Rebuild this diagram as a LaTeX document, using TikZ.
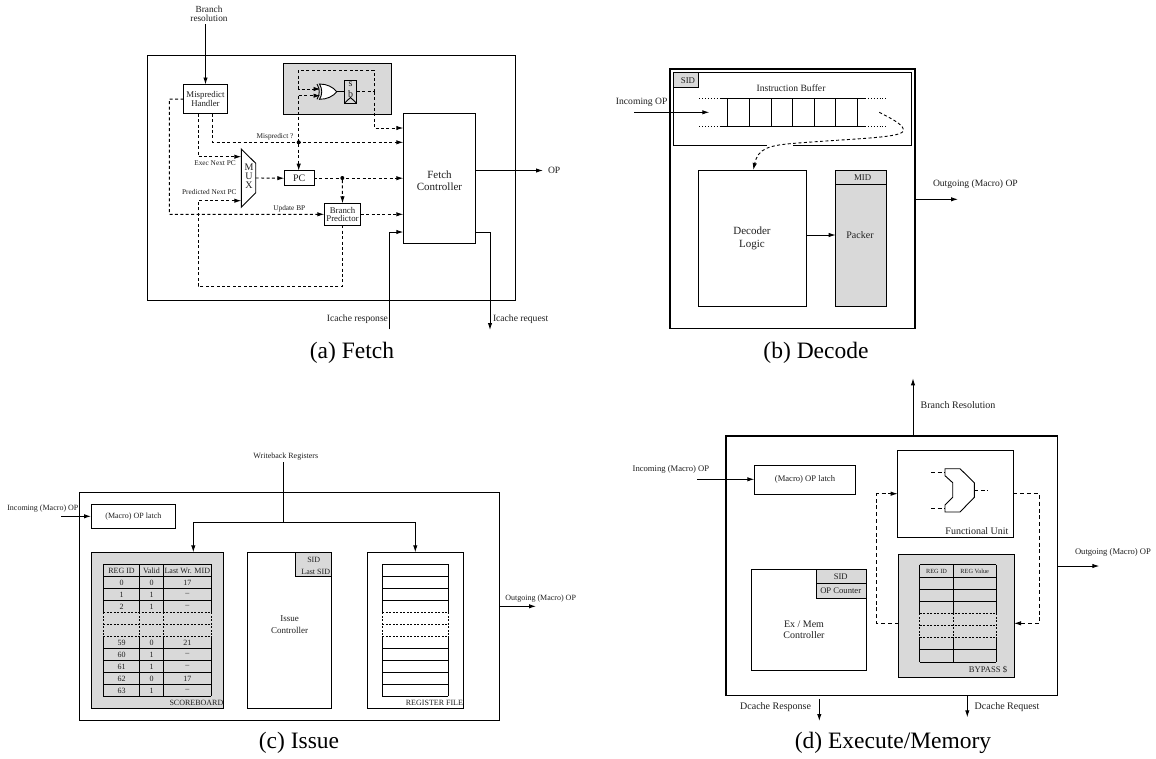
\documentclass[tikz,border=0pt]{standalone}
\usepackage{fontspec}
\setmainfont{Liberation Serif}
\usetikzlibrary{arrows.meta}
\definecolor{gr}{HTML}{D9D9D9}
\tikzset{
  >={Latex[length=7pt,width=4.4pt]},
  box/.style={draw=black,line width=.9pt,inner sep=0pt,outer sep=0pt,align=center},
  outerbox/.style={box,line width=1.25pt},
  shade/.style={fill=gr},
  wire/.style={line width=.9pt},
  dsh/.style={wire,dash pattern=on 3pt off 2.4pt},
  dot/.style={circle,fill=black,inner sep=0pt,outer sep=0pt,minimum size=4pt},
  lab/.style={inner sep=0pt,outer sep=0pt,align=center,text=black!88},
  f6/.style={lab,font=\fontsize{6.3}{7}\selectfont},
  f7/.style={lab,font=\fontsize{7.3}{8.5}\selectfont},
  f75/.style={lab,font=\fontsize{8}{9}\selectfont},
  f8/.style={lab,font=\fontsize{8}{9}\selectfont},
  f85/.style={lab,font=\fontsize{8.6}{9}\selectfont},
  f9/.style={lab,font=\fontsize{8.8}{9.3}\selectfont},
  f95/.style={lab,font=\fontsize{9.6}{9}\selectfont},
  f10/.style={lab,font=\fontsize{10}{11}\selectfont},
  f11/.style={lab,font=\fontsize{11}{12.5}\selectfont},
  captxt/.style={lab,font=\fontsize{23.5}{26}\selectfont,text=black},
}
\newcommand\bx[7][]{%
  \pgfmathsetmacro\bcx{(#3+#5)/2}\pgfmathsetmacro\bcy{(#4+#6)/2}%
  \pgfmathsetmacro\bww{#5-#3}\pgfmathsetmacro\bhh{#6-#4}%
  \node[box,minimum width=\bww pt,minimum height=\bhh pt,#1] (#2) at (\bcx,\bcy) {#7};}
\begin{document}
\begin{tikzpicture}[x=1pt,y=-1pt]
\useasboundingbox[fill=white] (0,0) rectangle (1156,758);

% ---------- (a) Fetch
\bx[outerbox]{fo}{147.5}{55.5}{515.5}{300.7}{}
\bx[shade]{fgrey}{283.3}{63.5}{391.7}{114.3}{}
\bx[f9,box]{fhand}{183.5}{84.5}{227.5}{113.7}{Mispredict\\Handler}
\bx{fctl}{403.3}{113.3}{475.7}{243.3}{}
\node[f11] (fctlt) at (439.5,180.5) {Fetch\\Controller};
\bx[f10,box]{fpc}{284.3}{170.7}{314}{185.7}{PC}
\bx[f9,box,font=\fontsize{8.8}{8}\selectfont]{fbp}{324.3}{203.3}{360.7}{225.3}{Branch\\Predictor}
\draw[wire,fill=white] (241.3,149) -- (255.7,163.3) -- (255.7,192.7) -- (241.3,207.3) -- cycle;
\node[f10] (fm) at (249,167) {M};
\node[f10] (fu) at (249,176.5) {U};
\node[f10] (fx) at (249,185.5) {X};
\coordinate (fmuxa) at (241.3,156.7);
\coordinate (fmuxb) at (241.3,200.7);
\coordinate (fmuxo) at (255.7,178);
% xor and latch
\draw[wire,fill=white] (319.5,84) .. controls (327,84) and (333,87) .. (336.7,91.7) .. controls (333,96.5) and (327,99.3) .. (319.5,99.3) .. controls (322.5,94.5) and (322.5,89) .. (319.5,84) -- cycle;
\draw[wire] (317,84) .. controls (320,89) and (320,94.5) .. (317,99.3);
\coordinate (xa) at (320.5,89);
\coordinate (xb) at (320.5,95.7);
\coordinate (xo) at (336.7,91.7);
\coordinate (xj) at (298.7,95.7);
\bx[shade,box]{fsb}{344.3}{80.3}{356.7}{103.3}{}
\node[f10] (fs) at (350.5,84) {s};
\node[f10] (fb) at (350.5,94) {b};
\draw[wire] (344.3,103.3) -- (350.5,97.5) -- (356.7,103.3);
\draw[wire] (xo) -- (xo -| fsb.west);
\coordinate (fj) at (374,91.7);
\draw[dsh] (fsb.east |- fj) -- (fj);
\draw[dsh,->] (fj) -- (374,70) -- (298.7,70) -- (298.7,89) -- (xa);
\draw[dsh,->] (fj) -- (374,128) -- (fctl.west |- 0,128);
\draw[dsh,->] (xj) -- (fpc.north -| xj);
\draw[dsh,->] (xj) -- (xb);
\draw[dsh,->] (fhand.south -| 212.7,0) -- (212.7,142.3) -- (fctl.west |- 0,142.3);
\node[dot] (fd1) at (298.7,142.3) {};
\draw[dsh,->] (fhand.south -| 198.3,0) -- (198.3,156.7) -- (fmuxa);
\draw[dsh,->] (fmuxo) -- (fpc.west);
\draw[dsh,->] (fpc.east) -- (fctl.west |- fpc.east);
\node[dot] (fd2) at (342.3,178) {};
\draw[dsh,->] (fd2) -- (fbp.north);
\draw[dsh,->] (fbp.east) -- (fctl.west |- fbp.east);
\draw[dsh,->] (fhand.west) -- (169.3,99.1) -- (169.3,214.3) -- (fbp.west);
\draw[dsh,->] (fbp.south) -- (342.5,286) -- (198,286) -- (198,200.7) -- (fmuxb);
\coordinate (fbr) at (205.5,24);
\draw[wire,->] (fbr) -- (fhand.north -| fbr);
\node[f95,font=\fontsize{9.3}{8.5}\selectfont] (fbrt) at (209,14) {Branch\\resolution};
\coordinate (fir) at (389,329.3);
\draw[wire,->] (fir) -- (389,232) -- (fctl.west |- 0,232);
\coordinate (fiq) at (490,330);
\draw[wire,->] (fctl.east |- 0,232) -- (490,232) -- (fiq);
\coordinate (fop) at (543,170.5);
\draw[wire,->] (fctl.east |- fop) -- (fop);
\node[f7] (ft1) at (275,136.3) {Mispredict ?};
\node[f7] (ft2) at (215,163.3) {Exec Next PC};
\node[f7] (ft3) at (209.3,192.3) {Predicted Next PC};
\node[f7] (ft4) at (289.3,208.7) {Update BP};
\node[f95,anchor=east] (ft5) at (388,319) {Icache response};
\node[f95,anchor=west] (ft6) at (493,319) {Icache request};
\node[f95,anchor=west] (ft7) at (548,170.5) {OP};
\node[captxt] (capa) at (352,352.5) {(a) Fetch};

% ---------- (b) Decode
\bx[outerbox]{do}{670}{69}{915}{328.3}{}
\bx{dib}{673.3}{72.7}{911.7}{145}{}
\draw[white,line width=1.6pt] (767,145) -- (792.5,145);
\bx[shade]{dsid}{673.3}{72.7}{698.7}{87.3}{}
\node[f9] (dsidt) at (688,81) {SID};
\node[f95] (dibt) at (791,88) {Instruction Buffer};
\draw[wire] (721,98) -- (865,98) (721,126.7) -- (865,126.7);
\draw[wire,dotted,line width=.7pt] (699.3,98) -- (721,98) (865,98) -- (886,98) (699.3,126.7) -- (721,126.7) (865,126.7) -- (886,126.7);
\foreach \x in {727.3,749.3,771,792.3,814.3,835.7,857.3} \draw[wire] (\x,98) -- (\x,126.7);
\bx{ddec}{698.7}{170}{806.7}{306.7}{}
\node[f11] (ddect) at (752,238.5) {Decoder\\Logic};
\bx[shade]{dpk}{835.7}{170}{886}{306.7}{}
\bx[shade]{dmid}{835.7}{170}{886}{184.7}{}
\node[f9] (dmidt) at (862.7,177.8) {MID};
\node[f10] (dpkt) at (860,235.5) {Packer};
\draw[wire,->] (ddec.east |- 0,235) -- (dpk.west |- 0,235);
\coordinate (din1) at (634,112.3);
\coordinate (din2) at (709.3,112.3);
\draw[wire,->] (din1) -- (din2);
\node[f95] (dint) at (641.7,102) {Incoming OP};
\coordinate (dc0) at (879.3,112.3);
\draw[dsh,->] (dc0) .. controls (890,118) and (903,124) .. (903.5,130) .. controls (904,138) and (860,138) .. (792,143.5) .. controls (770,145.5) and (758,148) .. (ddec.north -| 753.3,0);
\coordinate (dout) at (958,199.3);
\draw[wire,->] (do.east |- dout) -- (dout);
\node[f95,anchor=west] (doutt) at (933,184.5) {Outgoing (Macro) OP};
\node[captxt] (capb) at (816,352.5) {(b) Decode};

% ---------- (c) Issue
\bx[outerbox,line width=1pt]{io}{79}{492.3}{499.3}{720.3}{}
\bx[f8]{ilatch}{91}{504.3}{175.7}{528.7}{(Macro) OP latch}
\bx[shade]{isb}{91}{552.3}{223.7}{708.3}{}
\bx{ictl}{247.3}{552.3}{331.7}{708.3}{}
\bx[shade]{isid}{295.3}{552.3}{331.7}{576.7}{}
\bx{irf}{367.3}{552.3}{463.3}{708.3}{}
\node[f8] (isid1) at (313.7,559.5) {SID};
\node[f8] (isid2) at (315.7,571.5) {Last SID};
\node[f8,font=\fontsize{9}{12}\selectfont] (ictlt) at (289.5,625) {Issue\\Controller};
\node[f75,anchor=east] (isbt) at (223.3,703.3) {SCOREBOARD};
\node[f75,anchor=east] (irft) at (463,703.3) {REGISTER FILE};
% scoreboard table
\foreach \y in {564.3,576.3,588.3,600.3,648.3,660.3,672.3,684.3,696.3} \draw[wire] (103,\y) -- (211.3,\y);
\foreach \y in {612.3,624.3,636.3} \draw[wire,dash pattern=on 2pt off 1.5pt] (103,\y) -- (211.3,\y);
\foreach \x in {103,139.3,163.3,211.3} {
  \draw[wire] (\x,564.3) -- (\x,612.3) (\x,636.3) -- (\x,696.3);
  \draw[wire,dash pattern=on 2pt off 1.5pt] (\x,612.3) -- (\x,636.3);
}
\node[f8] (th1) at (121.5,570.5) {REG ID};
\node[f8] (th2) at (151.5,570.5) {Valid};
\node[f8] (th3) at (187.3,570.5) {Last Wr. MID};
\foreach \n/\a/\b/\c/\r in {a/0/0/17/582.5,b/1/1/–/594.5,c/2/1/–/606.5,d/59/0/21/642.5,e/60/1/–/654.5,f/61/1/–/666.5,g/62/0/17/678.5,h/63/1/–/690.5} {
  \node[f8] (r\n1) at (121.5,\r) {\a};
  \node[f8] (r\n2) at (151.5,\r) {\b};
  \node[f8] (r\n3) at (187.3,\r) {\c};
}
% register file rows
\foreach \y in {564.3,576.3,588.3,600.3,648.3,660.3,672.3,684.3,696.3} \draw[wire] (382.3,\y) -- (448.3,\y);
\foreach \y in {612.3,624.3,636.3} \draw[wire,dash pattern=on 2pt off 1.5pt] (382.3,\y) -- (448.3,\y);
\foreach \x in {382.3,448.3} {
  \draw[wire] (\x,564.3) -- (\x,612.3) (\x,636.3) -- (\x,696.3);
  \draw[wire,dash pattern=on 2pt off 1.5pt] (\x,612.3) -- (\x,636.3);
}
\coordinate (iw0) at (283.3,462.3);
\coordinate (iw1) at (283.3,522.3);
\draw[wire] (iw0) -- (iw1);
\draw[wire,->] (iw1) -- (193.3,522.3) -- (isb.north -| 193.3,0);
\draw[wire,->] (iw1) -- (415.3,522.3) -- (irf.north -| 415.3,0);
\node[f75] (iwt) at (285.8,457) {Writeback Registers};
\coordinate (iin) at (61.3,516.3);
\draw[wire,->] (iin) -- (ilatch.west |- iin);
\node[f8,anchor=west] (iint) at (7.3,508.3) {Incoming (Macro) OP};
\coordinate (iout) at (536,606.3);
\draw[wire,->] (io.east |- iout) -- (iout);
\node[f8,anchor=west] (ioutt) at (505.3,598.3) {Outgoing (Macro) OP};
\node[captxt] (capc) at (299,742.5) {(c) Issue};

% ---------- (d) Execute/Memory
\bx[outerbox]{eo}{726}{436}{1057.3}{695.7}{}
\bx[f85]{elatch}{754.3}{465}{855.7}{494}{(Macro) OP latch}
\bx{efu}{897.7}{450.7}{1013.3}{537.3}{}
\draw[wire] (945,468.7) -- (960,468.7) -- (974.3,482.7) -- (974.3,497.3) -- (960,512) -- (945,512) -- (945,505) -- (952.7,497.3) -- (952.7,482.7) -- (945,475.7) -- cycle;
\coordinate (ea1) at (931,472.3);
\coordinate (ea2) at (931,508.3);
\coordinate (ea3) at (987.7,490);
\draw[wire,dash pattern=on 4pt off 2.5pt] (ea1) -- (945,472.3);
\draw[wire,dash pattern=on 4pt off 2.5pt] (ea2) -- (945,508.3);
\draw[wire,dash pattern=on 4pt off 2.5pt] (974.3,490) -- (ea3);
\node[f10,anchor=east] (efut) at (1008.5,530.7) {Functional Unit};
\bx[shade]{eby}{898.7}{554}{1014}{677.3}{}
\foreach \y in {564.7,577,589,601.3,649.7,662} \draw[wire] (919.7,\y) -- (996,\y);
\foreach \y in {613.3,625.3,637.3} \draw[wire,dash pattern=on 2pt off 1.5pt] (919.7,\y) -- (996,\y);
\foreach \x in {919.7,953.3,996} {
  \draw[wire] (\x,564.7) -- (\x,613.3) (\x,637.3) -- (\x,662);
  \draw[wire,dash pattern=on 2pt off 1.5pt] (\x,613.3) -- (\x,637.3);
}
\node[f6] (eh1) at (936.5,571) {REG ID};
\node[f6] (eh2) at (974.7,571) {REG Value};
\node[f85] (ebyt) at (988,669.3) {BYPASS \$};
\bx{ectl}{751}{569.3}{866.7}{670.7}{}
\bx[shade,f85]{esid}{816}{569.3}{866.7}{583.3}{}
\bx[shade,f85]{eopc}{816}{583.3}{866.7}{598.3}{}
\node[f85] (esidt) at (840.7,577) {SID};
\node[f85] (eopct) at (840.7,591) {OP Counter};
\node[f10] (ectlt) at (804,629.3) {Ex / Mem\\Controller};
\draw[wire,->,dash pattern=on 4pt off 2.8pt] (eby.west |- 0,623.3) -- (876.7,623.3) -- (876.7,493.7) -- (efu.west |- 0,493.7);
\draw[wire,->,dash pattern=on 4pt off 2.8pt] (efu.east |- 0,493.7) -- (1039.3,493.7) -- (1039.3,623.3) -- (eby.east |- 0,623.3);
\coordinate (ebr) at (913,378.3);
\draw[wire,->] (eo.north -| ebr) -- (ebr);
\node[f10,anchor=west] (ebrt) at (920.7,404.7) {Branch Resolution};
\coordinate (ein) at (697.3,479.3);
\draw[wire,->] (ein) -- (elatch.west |- ein);
\node[f85,anchor=west] (eint) at (632.7,469.3) {Incoming (Macro) OP};
\coordinate (eout) at (1099.3,566);
\draw[wire,->] (eo.east |- eout) -- (eout);
\node[f85,anchor=west] (eoutt) at (1075,552.3) {Outgoing (Macro) OP};
\coordinate (edq) at (967.3,717.3);
\draw[wire,->] (eo.south -| edq) -- (edq);
\node[f10,anchor=west] (edqt) at (974.7,706.7) {Dcache Request};
\coordinate (edr0) at (819.3,699.3);
\coordinate (edr) at (819.3,721);
\draw[wire,->] (edr0) -- (edr);
\node[f10,anchor=east] (edrt) at (811,706.7) {Dcache Response};
\node[captxt] (capd) at (893,742.5) {(d) Execute/Memory};
\end{tikzpicture}
\end{document}
